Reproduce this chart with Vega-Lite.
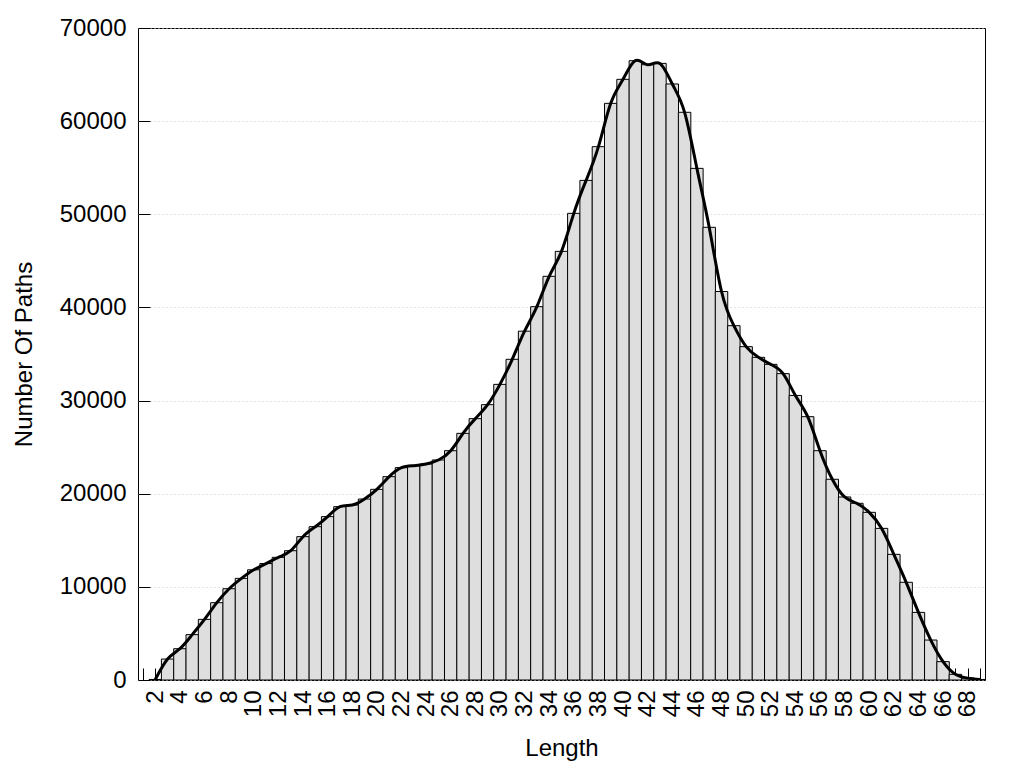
{
  "$schema": "https://vega.github.io/schema/vega-lite/v6.json",
  "width": 847,
  "height": 652,
  "autosize": {"type": "none"},
  "padding": {"left": 138, "top": 28, "right": 39, "bottom": 88},
  "background": "white",
  "config": {
    "view": {"stroke": "black", "strokeWidth": 1},
    "font": "Liberation Sans",
    "axis": {
      "labelFont": "Liberation Sans",
      "titleFont": "Liberation Sans",
      "labelFontSize": 24,
      "titleFontSize": 24,
      "labelColor": "black",
      "titleColor": "black",
      "titleFontWeight": "normal",
      "domain": false,
      "tickColor": "black",
      "tickSize": -12,
      "tickWidth": 1,
      "labelOverlap": false
    },
    "axisX": {"labelOverlap": false}
  },
  "data": {
    "values": [
      {"Length": 2, "Paths": 60},
      {"Length": 3, "Paths": 2250},
      {"Length": 4, "Paths": 3360},
      {"Length": 5, "Paths": 4870},
      {"Length": 6, "Paths": 6510},
      {"Length": 7, "Paths": 8300},
      {"Length": 8, "Paths": 9800},
      {"Length": 9, "Paths": 10910},
      {"Length": 10, "Paths": 11830},
      {"Length": 11, "Paths": 12500},
      {"Length": 12, "Paths": 13170},
      {"Length": 13, "Paths": 13880},
      {"Length": 14, "Paths": 15390},
      {"Length": 15, "Paths": 16460},
      {"Length": 16, "Paths": 17540},
      {"Length": 17, "Paths": 18610},
      {"Length": 18, "Paths": 18790},
      {"Length": 19, "Paths": 19430},
      {"Length": 20, "Paths": 20470},
      {"Length": 21, "Paths": 21830},
      {"Length": 22, "Paths": 22800},
      {"Length": 23, "Paths": 23010},
      {"Length": 24, "Paths": 23190},
      {"Length": 25, "Paths": 23620},
      {"Length": 26, "Paths": 24620},
      {"Length": 27, "Paths": 26480},
      {"Length": 28, "Paths": 28060},
      {"Length": 29, "Paths": 29560},
      {"Length": 30, "Paths": 31740},
      {"Length": 31, "Paths": 34430},
      {"Length": 32, "Paths": 37450},
      {"Length": 33, "Paths": 40080},
      {"Length": 34, "Paths": 43340},
      {"Length": 35, "Paths": 46020},
      {"Length": 36, "Paths": 50100},
      {"Length": 37, "Paths": 53640},
      {"Length": 38, "Paths": 57260},
      {"Length": 39, "Paths": 61910},
      {"Length": 40, "Paths": 64490},
      {"Length": 41, "Paths": 66490},
      {"Length": 42, "Paths": 66060},
      {"Length": 43, "Paths": 66200},
      {"Length": 44, "Paths": 63990},
      {"Length": 45, "Paths": 60950},
      {"Length": 46, "Paths": 54930},
      {"Length": 47, "Paths": 48600},
      {"Length": 48, "Paths": 41710},
      {"Length": 49, "Paths": 38040},
      {"Length": 50, "Paths": 35790},
      {"Length": 51, "Paths": 34640},
      {"Length": 52, "Paths": 33890},
      {"Length": 53, "Paths": 32890},
      {"Length": 54, "Paths": 30550},
      {"Length": 55, "Paths": 28270},
      {"Length": 56, "Paths": 24620},
      {"Length": 57, "Paths": 21550},
      {"Length": 58, "Paths": 19650},
      {"Length": 59, "Paths": 18970},
      {"Length": 60, "Paths": 18000},
      {"Length": 61, "Paths": 16280},
      {"Length": 62, "Paths": 13490},
      {"Length": 63, "Paths": 10490},
      {"Length": 64, "Paths": 7260},
      {"Length": 65, "Paths": 4290},
      {"Length": 66, "Paths": 1970},
      {"Length": 67, "Paths": 610},
      {"Length": 68, "Paths": 200},
      {"Length": 69, "Paths": 60}
    ]
  },
  "encoding": {
    "x": {
      "field": "Length",
      "type": "quantitative",
      "scale": {"domain": [1, 69], "nice": false, "zero": false},
      "axis": {
        "title": "Length",
        "values": [1,2,3,4,5,6,7,8,9,10,11,12,13,14,15,16,17,18,19,20,21,22,23,24,25,26,27,28,29,30,31,32,33,34,35,36,37,38,39,40,41,42,43,44,45,46,47,48,49,50,51,52,53,54,55,56,57,58,59,60,61,62,63,64,65,66,67,68,69],
        "labelExpr": "datum.value % 2 == 0 ? datum.label : ''",
        "labelAngle": -90,
        "labelAlign": "right",
        "labelBaseline": "middle",
        "labelPadding": 22,
        "labelOverlap": false,
        "labelFlush": false,
        "grid": false,
        "titlePadding": 20
      }
    },
    "y": {
      "field": "Paths",
      "type": "quantitative",
      "scale": {"domain": [0, 70000], "nice": false},
      "axis": {
        "title": "Number Of Paths",
        "values": [0, 10000, 20000, 30000, 40000, 50000, 60000, 70000],
        "format": "d",
        "labelPadding": 24,
        "grid": true,
        "gridColor": "#c8c8c8",
        "gridDash": [1, 3],
        "gridWidth": 1,
        "titlePadding": 23
      }
    }
  },
  "layer": [
    {
      "mark": {"type": "bar", "size": 12.45, "fill": "#dedede", "stroke": "black", "strokeWidth": 1, "clip": true}
    },
    {
      "mark": {"type": "line", "interpolate": "natural", "color": "black", "strokeWidth": 3, "clip": true}
    }
  ]
}
